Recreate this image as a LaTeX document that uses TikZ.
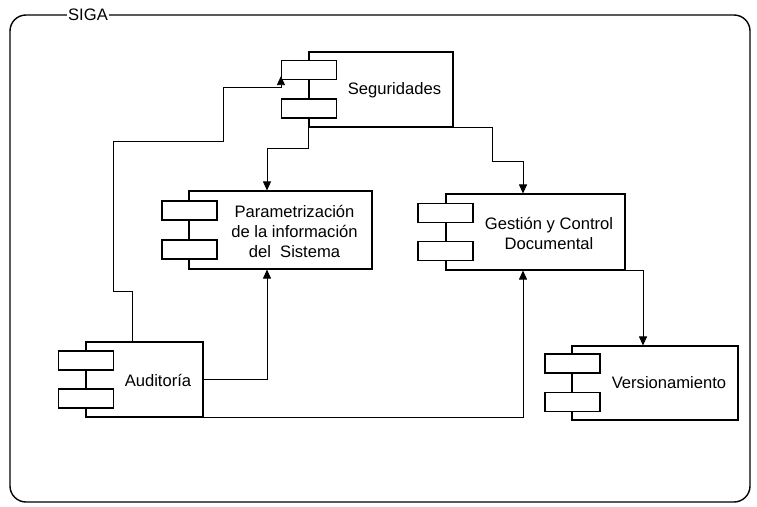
\documentclass[tikz,border=0pt]{standalone}
\usepackage{fontspec}
\setmainfont{Liberation Sans}
\usetikzlibrary{arrows.meta}

\begin{document}
\begin{tikzpicture}[x=1pt, y=-1pt, >={Triangle[length=9pt,width=8pt]},
  cnode/.style={draw, line width=1.1pt, inner sep=0pt},
  pnode/.style={draw, line width=1.1pt, fill=white, minimum width=55pt, minimum height=19pt, inner sep=0pt},
  tnode/.style={align=center, font=\fontsize{16.6}{20}\selectfont},
  link/.style={line width=0.8pt}]
    \useasboundingbox (0,0) rectangle (757,506);
    \draw[line width=1.4pt, rounded corners=16pt] (10,15) rectangle (750,502);
    \node[tnode, fill=white, inner xsep=1pt, inner ysep=0pt] (siga) at (88,15) {SIGA};

    \node[cnode, minimum width=144pt, minimum height=75pt] (seg) at (381,89.5) {};
    \node[pnode] (seg-a) at (309,70) {};
    \node[pnode] (seg-b) at (309,108.5) {};
    \node[tnode] (seg-t) at (394.5,90) {Seguridades};

    \node[cnode, minimum width=183pt, minimum height=78pt] (param) at (280.5,230) {};
    \node[pnode] (param-a) at (189.5,210.5) {};
    \node[pnode] (param-b) at (189.5,249.5) {};
    \node[tnode] (param-t) at (294.5,231) {Parametrización\\de la información\\del\ \ Sistema};

    \node[cnode, minimum width=179pt, minimum height=76pt] (gest) at (535.5,232) {};
    \node[pnode] (gest-a) at (445.5,213) {};
    \node[pnode] (gest-b) at (445.5,251) {};
    \node[tnode] (gest-t) at (549,233) {Gestión y Control\\Documental};

    \node[cnode, minimum width=117pt, minimum height=75pt] (aud) at (144.5,379.5) {};
    \node[pnode] (aud-a) at (86,360.5) {};
    \node[pnode] (aud-b) at (86,398.5) {};
    \node[tnode] (aud-t) at (158,380) {Auditoría};

    \node[cnode, minimum width=166pt, minimum height=74pt] (ver) at (655,383) {};
    \node[pnode] (ver-a) at (572.5,363.5) {};
    \node[pnode] (ver-b) at (572.5,402) {};
    \node[tnode] (ver-t) at (669,383) {Versionamiento};

   \begin{scope}[link]
    \draw[->] ([xshift=-12.5pt]aud.north) -- ++(0,-50) -- ++(-19,0) -- ++(0,-150) -- ++(110,0) -- ++(0,-54) -| ([yshift=4pt]seg-a.south west);
    \draw[->] (seg.south west) -- ++(0,21) -| ([xshift=-13.5pt]param.north);
    \draw[->] (seg.south east) -- ++(39,0) -- ++(0,34) -| ([xshift=-12.5pt]gest.north);
    \draw[->] (gest.south east) -| ([xshift=-12pt]ver.north);
    \draw[->] (aud.east) -| ([xshift=-13.5pt]param.south);
    \draw[->] (aud.south east) -| ([xshift=-12.5pt]gest.south);
   \end{scope}
\end{tikzpicture}
\end{document}
